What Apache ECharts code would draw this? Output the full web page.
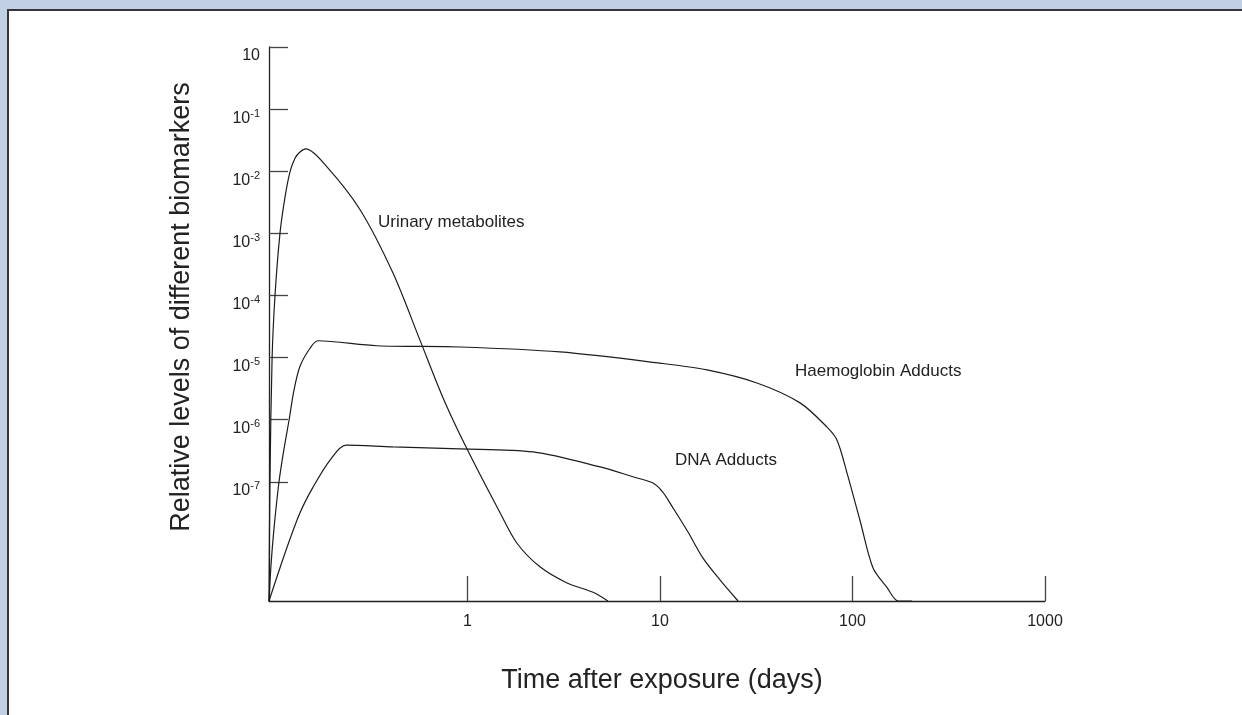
<!DOCTYPE html>
<html>
<head>
<meta charset="utf-8">
<title>Biomarker levels after exposure</title>
<script src="https://cdn.jsdelivr.net/npm/echarts@6/dist/echarts.min.js"></script>
<style>
  html, body { margin: 0; padding: 0; width: 1242px; height: 715px; overflow: hidden; background: #c1d0e4; }
  #panel { position: absolute; left: 7px; top: 9px; right: 0; bottom: 0; background: #fff;
           border-left: 2px solid #35363a; border-top: 2px solid #35363a; }
  #main { position: absolute; left: 0; top: 0; width: 1242px; height: 715px; }
</style>
</head>
<body>
<div id="panel"></div>
<div id="main"></div>
<script>
// both axes are log10 exponents: x = log10(days), y = log10(relative level)
var xTicks = [0, 1, 2, 3];            // 1, 10, 100, 1000 days
var yTicks = [0, -1, -2, -3, -4, -5, -6, -7];

var urinaryLogDays  = [-1.030, -1.025, -1.014, -0.999, -0.973, -0.947, -0.921, -0.895, -0.869, -0.838, -0.729, -0.557, -0.386, -0.246, -0.126, -0.002, 0.170, 0.258, 0.377, 0.518, 0.653, 0.730];
var urinaryLogLevel = [-8.92, -6.97, -5.02, -4.01, -3.00, -2.42, -2.01, -1.79, -1.69, -1.64, -1.93, -2.62, -3.64, -4.72, -5.65, -6.47, -7.50, -7.99, -8.37, -8.63, -8.78, -8.92];

var haemLogDays  = [-1.030, -1.020, -1.004, -0.978, -0.952, -0.926, -0.900, -0.869, -0.817, -0.776, -0.469, -0.038, 0.481, 1.000, 1.245, 1.504, 1.728, 1.868, 1.920, 1.972, 2.039, 2.107, 2.179, 2.237, 2.309];
var haemLogLevel = [-8.92, -8.36, -7.75, -7.00, -6.47, -6.01, -5.52, -5.14, -4.85, -4.73, -4.81, -4.83, -4.91, -5.09, -5.20, -5.41, -5.73, -6.12, -6.33, -6.86, -7.62, -8.39, -8.70, -8.92, -8.92];

var dnaLogDays  = [-1.030, -0.947, -0.869, -0.802, -0.713, -0.630, -0.386, -0.038, 0.341, 0.689, 0.860, 0.964, 1.016, 1.068, 1.146, 1.224, 1.312, 1.406];
var dnaLogLevel = [-8.92, -8.15, -7.50, -7.09, -6.65, -6.41, -6.44, -6.47, -6.52, -6.76, -6.92, -7.02, -7.17, -7.42, -7.81, -8.23, -8.58, -8.92];

function zip(xs, ys) {
  return xs.map(function (x, i) { return [x, ys[i]]; });
}

var chart = echarts.init(document.getElementById('main'), null, { renderer: 'canvas' });

var textColor = '#222';
var font = 'Liberation Sans, Arial, Helvetica, sans-serif';

function curve(name, data, at) {
  return {
    name: name,
    type: 'line',
    data: data,
    symbol: 'none',
    smooth: 0.3,
    silent: true,
    lineStyle: { color: '#1c1c1c', width: 1.2 },
    markPoint: {
      symbol: 'circle',
      symbolSize: 0,
      silent: true,
      label: {
        show: true,
        position: 'inside',
        align: 'left',
        verticalAlign: 'middle',
        color: textColor,
        fontFamily: font,
        fontSize: 17,
        formatter: name
      },
      data: [{ coord: at }]
    }
  };
}

var option = {
  animation: false,
  backgroundColor: 'transparent',
  textStyle: { fontFamily: font },
  grid: { left: 269, top: 47, right: 197, bottom: 114, containLabel: false },
  xAxis: {
    type: 'value',
    min: -1.03,
    max: 3,
    name: 'Time after exposure (days)',
    nameLocation: 'middle',
    nameGap: 66,
    nameTextStyle: { color: textColor, fontSize: 27, fontFamily: font, padding: [0, 0, 0, 10] },
    splitLine: { show: false },
    axisLine: { show: true, onZero: false, lineStyle: { color: '#222', width: 1.3 } },
    axisTick: { show: true, inside: true, length: 25, customValues: xTicks, lineStyle: { color: '#444', width: 1.3 } },
    axisLabel: {
      customValues: xTicks,
      margin: 13,
      color: textColor,
      fontSize: 16,
      fontFamily: font,
      formatter: function (v) { return String(Math.round(Math.pow(10, v))); }
    }
  },
  yAxis: {
    type: 'value',
    min: -8.92,
    max: 0,
    name: 'Relative levels of different biomarkers',
    nameLocation: 'middle',
    nameGap: 74,
    nameTextStyle: { color: textColor, fontSize: 27, fontFamily: font, padding: [0, 0, 0, 34] },
    splitLine: { show: false },
    axisLine: { show: true, onZero: false, lineStyle: { color: '#222', width: 1.3 } },
    axisTick: { show: true, inside: true, length: 19, customValues: yTicks, lineStyle: { color: '#444', width: 1.3 } },
    axisLabel: {
      customValues: yTicks,
      margin: 9,
      padding: [18, 0, 0, 0],
      color: textColor,
      fontFamily: font,
      formatter: function (v) {
        return v === 0 ? '{b|10}' : '{b|10}{s|' + v + '}';
      },
      rich: {
        b: { fontSize: 16, lineHeight: 20, color: textColor, fontFamily: font },
        s: { fontSize: 11, verticalAlign: 'top', color: textColor, fontFamily: font }
      }
    }
  },
  series: [
    curve('Urinary metabolites', zip(urinaryLogDays, urinaryLogLevel), [-0.464, -2.83]),
    curve('Haemoglobin Adducts', zip(haemLogDays, haemLogLevel), [1.702, -5.22]),
    curve('DNA Adducts', zip(dnaLogDays, dnaLogLevel), [1.078, -6.66])
  ]
};

chart.setOption(option);
</script>
</body>
</html>
